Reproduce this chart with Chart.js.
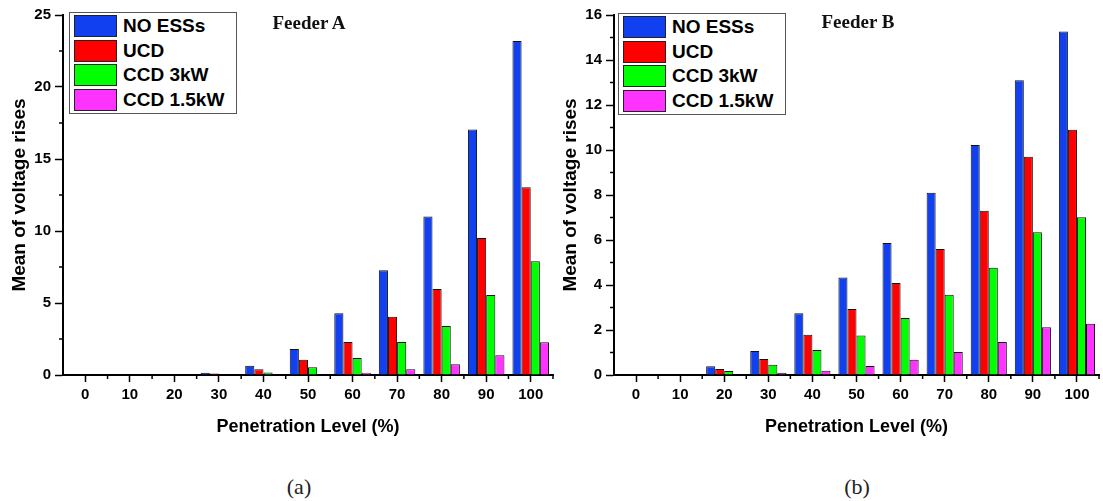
<!DOCTYPE html>
<html>
<head>
<meta charset="utf-8">
<script src="https://cdn.jsdelivr.net/npm/chart.js@4"></script>
<style>
  body { margin: 0; background: #fff; width: 1103px; height: 501px; position: relative; overflow: hidden;
         font-family: "Liberation Sans", Arial, sans-serif; }
  canvas { position: absolute; top: 0; }
  #chartA { left: 0; }
  #chartB { left: 551px; }
  .feeder { position: absolute; transform: translateX(-50%); font: bold 19px "Liberation Serif", "Times New Roman", serif;
            line-height: 24px; color: #111; white-space: nowrap; }
  .caption { position: absolute; transform: translateX(-50%); font: 22px "Liberation Serif", "Times New Roman", serif;
             line-height: 26px; color: #222; }
  .legend { position: absolute; width: 158px; border: 1px solid #555; padding: 1px 4px; background: #fff; }
  .legend .row { height: 24.5px; display: flex; align-items: center; font-weight: bold; font-size: 19px; color: #000; }
  .legend .sw { width: 41px; height: 20px; border: 1px solid #222; margin-right: 6px; flex: none; }
</style>
</head>
<body>
<canvas id="chartA" width="560" height="440"></canvas>
<canvas id="chartB" width="552" height="440"></canvas>

<div class="feeder" style="left:309px;top:11px">Feeder A</div>
<div class="feeder" style="left:858px;top:10px">Feeder B</div>
<div class="legend" id="legendA" style="left:69px;top:12px"></div>
<div class="legend" id="legendB" style="left:618px;top:13px"></div>
<div class="caption" style="left:299px;top:474px">(a)</div>
<div class="caption" style="left:857px;top:474px">(b)</div>

<script>
// ---------------- data ----------------
var levels = ["0", "10", "20", "30", "40", "50", "60", "70", "80", "90", "100"];
var seriesNames = ["NO ESSs", "UCD", "CCD 3kW", "CCD 1.5kW"];
var seriesColors = ["#1040f0", "#ff0000", "#00ff00", "#ff33ff"];

// Feeder A
var noEssA = [0, 0, 0, 0.15, 0.65, 1.8, 4.28, 7.27, 11.0, 17.05, 23.2];
var ucdA   = [0, 0, 0, 0.1, 0.4, 1.06, 2.3, 4.05, 5.97, 9.52, 13.03];
var ccd3A  = [0, 0, 0, 0.05, 0.18, 0.53, 1.18, 2.3, 3.4, 5.56, 7.9];
var ccd15A = [0, 0, 0, 0, 0.02, 0.03, 0.16, 0.4, 0.74, 1.37, 2.27];

// Feeder B
var noEssB = [0, 0, 0.39, 1.07, 2.74, 4.33, 5.87, 8.1, 10.22, 13.1, 15.27];
var ucdB   = [0, 0, 0.27, 0.71, 1.79, 2.93, 4.09, 5.6, 7.3, 9.7, 10.9];
var ccd3B  = [0, 0, 0.18, 0.46, 1.11, 1.76, 2.53, 3.57, 4.77, 6.34, 7.01];
var ccd15B = [0, 0, 0.03, 0.1, 0.19, 0.4, 0.68, 1.02, 1.47, 2.12, 2.28];

var yTicksA = [0, 5, 10, 15, 20, 25];
var yTicksB = [0, 2, 4, 6, 8, 10, 12, 14, 16];

// ---------------- minor ticks (category boundaries / half steps) ----------------
var minorTicks = {
  id: "minorTicks",
  afterDraw: function (chart, args, opts) {
    var ctx = chart.ctx, x = chart.scales.x, y = chart.scales.y;
    var half = (x.getPixelForValue(1) - x.getPixelForValue(0)) / 2;
    ctx.save();
    ctx.strokeStyle = "#000";
    ctx.lineWidth = 1.5;
    ctx.beginPath();
    for (var i = 1; i <= levels.length; i++) {
      var px = x.getPixelForValue(i) - half;
      ctx.moveTo(px, x.top);
      ctx.lineTo(px, x.top + 4);
    }
    for (var v = opts.step / 2; v < y.max; v += opts.step) {
      var py = y.getPixelForValue(v);
      ctx.moveTo(y.right, py);
      ctx.lineTo(y.right - 4, py);
    }
    ctx.stroke();
    ctx.restore();
  },
};

var font = "'Liberation Sans', Arial, sans-serif";

function makeChart(id, data, yTicks, rightPad) {
  var step = yTicks[1] - yTicks[0];
  return new Chart(document.getElementById(id), {
    type: "bar",
    data: {
      labels: levels,
      datasets: data.map(function (d, i) {
        return {
          label: seriesNames[i],
          data: d,
          backgroundColor: seriesColors[i],
          borderColor: "#111",
          borderWidth: 1,
          categoryPercentage: 0.82,
          barPercentage: 1,
        };
      }),
    },
    options: {
      responsive: false,
      animation: false,
      layout: { padding: { top: 15, right: rightPad, left: 0, bottom: 0 } },
      plugins: {
        legend: { display: false },
        tooltip: { enabled: false },
        minorTicks: { step: step },
      },
      scales: {
        x: {
          offset: true,
          afterFit: function (s) { s.height = 65; },
          grid: { drawOnChartArea: false, offset: false, tickLength: 7, tickWidth: 1.5, tickColor: "#000" },
          border: { color: "#000", width: 2 },
          ticks: { color: "#000", font: { family: font, size: 15, weight: "bold" }, padding: 4, maxRotation: 0, autoSkip: false },
          title: {
            display: true,
            text: "Penetration Level (%)",
            color: "#000",
            font: { family: font, size: 18, weight: "bold" },
            padding: { top: 0, bottom: 2 },
          },
        },
        y: {
          min: yTicks[0],
          max: yTicks[yTicks.length - 1],
          afterFit: function (s) { s.width = 63; },
          grid: { drawOnChartArea: false, tickLength: 8, tickWidth: 1.5, tickColor: "#000" },
          border: { color: "#000", width: 2 },
          ticks: { stepSize: step, color: "#000", font: { family: font, size: 15, weight: "bold" }, padding: 4 },
          title: {
            display: true,
            text: "Mean of voltage rises",
            color: "#000",
            font: { family: font, size: 19, weight: "bold" },
            padding: { top: 8, bottom: 0 },
          },
        },
      },
    },
    plugins: [minorTicks],
  });
}

var chartA = makeChart("chartA", [noEssA, ucdA, ccd3A, ccd15A], yTicksA, 7);
var chartB = makeChart("chartB", [noEssB, ucdB, ccd3B, ccd15B], yTicksB, 4);

// html legends inside the plot area
function buildLegend(elId) {
  var html = "";
  seriesNames.forEach(function (name, i) {
    html += '<div class="row"><span class="sw" style="background:' + seriesColors[i] + '"></span>' + name + "</div>";
  });
  document.getElementById(elId).innerHTML = html;
}
buildLegend("legendA");
buildLegend("legendB");
</script>
</body>
</html>
